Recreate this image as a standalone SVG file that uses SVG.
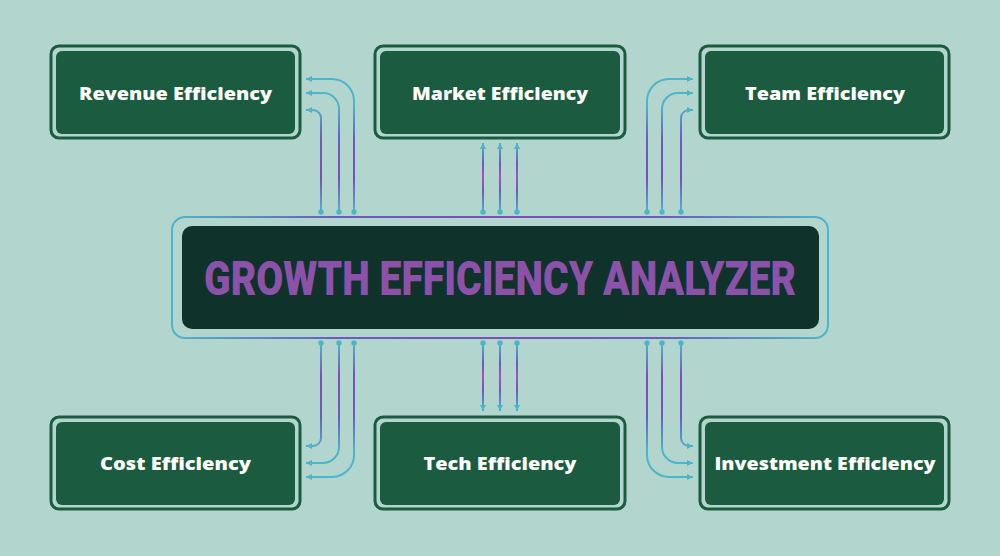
<svg xmlns="http://www.w3.org/2000/svg" width="1000" height="556" viewBox="0 0 1000 556">
<defs>
<style>
.outer{fill:none;stroke:#1b5b40;stroke-width:3}
.inner{fill:#1b5b40}
.lbl{font-family:"Open Sans","Liberation Sans",sans-serif;font-weight:800;font-size:18px;fill:#ffffff;text-anchor:middle}
.title{font-family:Roboto,"Liberation Sans",sans-serif;font-weight:900;font-size:48px;fill:#8c52a9;text-anchor:middle}
.c{fill:none;stroke-width:2;marker-start:url(#dot);marker-end:url(#arr)}
</style>
<marker id="arr" markerUnits="userSpaceOnUse" markerWidth="7" markerHeight="7" refX="6" refY="3" orient="auto" viewBox="0 0 7 7"><path d="M0,0 L6,3 L0,6 z" fill="#4db5ca"/></marker>
<marker id="dot" markerUnits="userSpaceOnUse" markerWidth="6" markerHeight="6" refX="3" refY="3" viewBox="0 0 6 6"><circle cx="3" cy="3" r="2.7" fill="#4db5ca"/></marker>
<linearGradient id="gTop" gradientUnits="userSpaceOnUse" x1="0" y1="212" x2="0" y2="79"><stop offset="0" stop-color="#4db5ca"/><stop offset="0.25" stop-color="#7a4fbc"/><stop offset="0.55" stop-color="#6a5cc0"/><stop offset="0.8" stop-color="#4db5ca"/></linearGradient>
<linearGradient id="gBot" gradientUnits="userSpaceOnUse" x1="0" y1="343" x2="0" y2="477"><stop offset="0" stop-color="#4db5ca"/><stop offset="0.25" stop-color="#7a4fbc"/><stop offset="0.55" stop-color="#6a5cc0"/><stop offset="0.8" stop-color="#4db5ca"/></linearGradient>
<linearGradient id="gMT" gradientUnits="userSpaceOnUse" x1="0" y1="212" x2="0" y2="143"><stop offset="0" stop-color="#4db5ca"/><stop offset="0.3" stop-color="#6a5cc0"/><stop offset="0.5" stop-color="#a255b5"/><stop offset="0.7" stop-color="#6a5cc0"/><stop offset="1" stop-color="#4db5ca"/></linearGradient>
<linearGradient id="gMB" gradientUnits="userSpaceOnUse" x1="0" y1="343" x2="0" y2="411"><stop offset="0" stop-color="#4db5ca"/><stop offset="0.3" stop-color="#6a5cc0"/><stop offset="0.5" stop-color="#a255b5"/><stop offset="0.7" stop-color="#6a5cc0"/><stop offset="1" stop-color="#4db5ca"/></linearGradient>
<linearGradient id="gFrame" gradientUnits="userSpaceOnUse" x1="172" y1="0" x2="828" y2="0"><stop offset="0" stop-color="#4db5ca"/><stop offset="0.25" stop-color="#6a5cc0"/><stop offset="0.5" stop-color="#7a4fbc"/><stop offset="0.75" stop-color="#6a5cc0"/><stop offset="1" stop-color="#4db5ca"/></linearGradient>
</defs>
<rect width="1000" height="556" fill="#b2d6ce"/>
<g id="connectors">
<path class="c" stroke="url(#gTop)" d="M354,212 V101 A22,22 0 0 0 332,79 H306"/>
<path class="c" stroke="url(#gTop)" d="M339,212 V109 A16,16 0 0 0 323,93 H306"/>
<path class="c" stroke="url(#gTop)" d="M321,212 V118 A8,8 0 0 0 313,110 H306"/>
<path class="c" stroke="url(#gTop)" d="M647,212 V101 A22,22 0 0 1 669,79 H693"/>
<path class="c" stroke="url(#gTop)" d="M662,212 V109 A16,16 0 0 1 678,93 H693"/>
<path class="c" stroke="url(#gTop)" d="M681,212 V118 A8,8 0 0 1 689,110 H693"/>
<path class="c" stroke="url(#gMT)" d="M483,212 V143"/>
<path class="c" stroke="url(#gMT)" d="M500,212 V143"/>
<path class="c" stroke="url(#gMT)" d="M517,212 V143"/>
<path class="c" stroke="url(#gBot)" d="M321,343 V438 A8,8 0 0 1 313,446 H306"/>
<path class="c" stroke="url(#gBot)" d="M339,343 V447 A16,16 0 0 1 323,463 H306"/>
<path class="c" stroke="url(#gBot)" d="M354,343 V455 A22,22 0 0 1 332,477 H306"/>
<path class="c" stroke="url(#gBot)" d="M681,343 V438 A8,8 0 0 0 689,446 H693"/>
<path class="c" stroke="url(#gBot)" d="M662,343 V447 A16,16 0 0 0 678,463 H693"/>
<path class="c" stroke="url(#gBot)" d="M647,343 V455 A22,22 0 0 0 669,477 H693"/>
<path class="c" stroke="url(#gMB)" d="M483,343 V411"/>
<path class="c" stroke="url(#gMB)" d="M500,343 V411"/>
<path class="c" stroke="url(#gMB)" d="M517,343 V411"/>
</g>
<g id="center">
<rect x="172" y="217" width="656" height="121" rx="13" fill="none" stroke="url(#gFrame)" stroke-width="2"/>
<rect x="182" y="226" width="637" height="103" rx="10" fill="#0f332b"/>
<text class="title" x="500" y="295" textLength="592" lengthAdjust="spacingAndGlyphs">GROWTH EFFICIENCY ANALYZER</text>
</g>
<g id="revenue">
<rect class="outer" x="51" y="46" width="249" height="92" rx="8"/>
<rect class="inner" x="56" y="51" width="239" height="83" rx="6"/>
<text class="lbl" x="175.5" y="100" textLength="193" lengthAdjust="spacingAndGlyphs">Revenue Efficiency</text>
</g>
<g id="market">
<rect class="outer" x="375" y="46" width="250" height="92" rx="8"/>
<rect class="inner" x="380" y="51" width="240" height="83" rx="6"/>
<text class="lbl" x="500" y="100" textLength="176" lengthAdjust="spacingAndGlyphs">Market Efficiency</text>
</g>
<g id="team">
<rect class="outer" x="700" y="46" width="249" height="92" rx="8"/>
<rect class="inner" x="705" y="51" width="239" height="83" rx="6"/>
<text class="lbl" x="825" y="100" textLength="160" lengthAdjust="spacingAndGlyphs">Team Efficiency</text>
</g>
<g id="cost">
<rect class="outer" x="51" y="417" width="249" height="92" rx="8"/>
<rect class="inner" x="56" y="422" width="239" height="83" rx="6"/>
<text class="lbl" x="175.5" y="470" textLength="151" lengthAdjust="spacingAndGlyphs">Cost Efficiency</text>
</g>
<g id="tech">
<rect class="outer" x="375" y="417" width="250" height="92" rx="8"/>
<rect class="inner" x="380" y="422" width="240" height="83" rx="6"/>
<text class="lbl" x="500" y="470" textLength="153" lengthAdjust="spacingAndGlyphs">Tech Efficiency</text>
</g>
<g id="investment">
<rect class="outer" x="700" y="417" width="249" height="92" rx="8"/>
<rect class="inner" x="705" y="422" width="239" height="83" rx="6"/>
<text class="lbl" x="825" y="470" textLength="221" lengthAdjust="spacingAndGlyphs">Investment Efficiency</text>
</g>
</svg>
